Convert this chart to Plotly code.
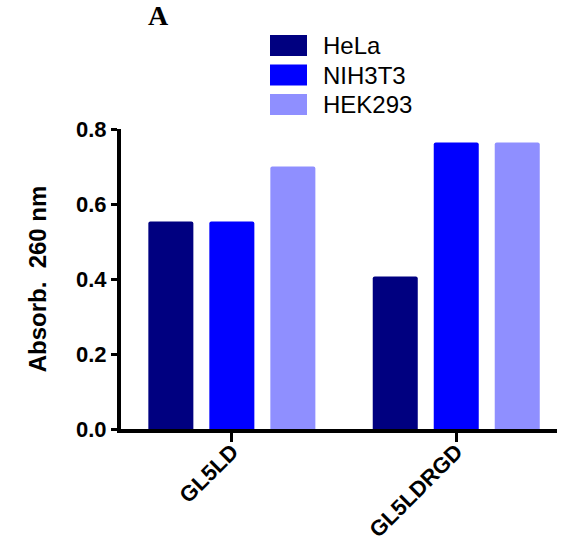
import plotly.graph_objects as go

categories = ["GL5LD", "GL5LDRGD"]
series_names = ["HeLa", "NIH3T3", "HEK293"]
hela = [0.553, 0.407]
nih3t3 = [0.553, 0.764]
hek293 = [0.700, 0.764]
series_values = [hela, nih3t3, hek293]
colors = ["#000080", "#0000FF", "#8F8FFF"]
y_ticks = [0.0, 0.2, 0.4, 0.6, 0.8]

FONT = "Arial, Liberation Sans, sans-serif"

fig = go.Figure()
for name, vals, col in zip(series_names, series_values, colors):
    fig.add_trace(go.Bar(x=categories, y=vals, name=name,
                         marker=dict(color=col, line=dict(width=0)),
                         showlegend=False))

# custom legend (large swatches like the reference)
shapes = []
annotations = []
for i, (name, col) in enumerate(zip(series_names, colors)):
    y0 = 35 + i * 29.5
    shapes.append(dict(type="rect", xref="paper", yref="paper",
                       x0=(270 - 121) / 436, x1=(307 - 121) / 436,
                       y0=(429 - y0) / 300, y1=(429 - (y0 + 21)) / 300,
                       fillcolor=col, line=dict(width=0)))
    annotations.append(dict(text=name, xref="paper", yref="paper",
                            x=(321 - 121) / 436, y=(429 - (y0 + 10.5)) / 300,
                            xanchor="left", yanchor="middle", showarrow=False,
                            font=dict(family=FONT, size=24, color="black")))

annotations.append(dict(text="<b>A</b>", xref="paper", yref="paper",
                        x=(158 - 121) / 436, y=(429 - 16) / 300,
                        xanchor="center", yanchor="middle", showarrow=False,
                        font=dict(family="Liberation Serif, Times New Roman, serif", size=28, color="black")))

fig.update_layout(
    width=563, height=549,
    margin=dict(l=121, r=6, t=129, b=120),
    paper_bgcolor="white", plot_bgcolor="white",
    barmode="group", bargap=0.1845, bargroupgap=0.262,
    barcornerradius=2,
    shapes=shapes, annotations=annotations,
    showlegend=False,
)
fig.update_xaxes(
    range=[-0.494, 1.449], showgrid=False, zeroline=False, automargin=False,
    showline=True, linecolor="black", linewidth=4,
    ticks="outside", ticklen=9, tickwidth=3, tickcolor="black",
    tickangle=-45, ticklabelstandoff=-12,
    tickfont=dict(family=FONT, size=22, color="black", weight="bold"),
)
fig.update_yaxes(
    range=[0, 0.8], tickvals=y_ticks, tickformat=".1f", automargin=False,
    showgrid=False, zeroline=False,
    showline=True, linecolor="black", linewidth=4,
    ticks="outside", ticklen=6, tickwidth=3, tickcolor="black",
    tickfont=dict(family=FONT, size=22, color="black", weight="bold"),
    title=dict(text="<b>Absorb.  260 nm</b>", standoff=24,
               font=dict(family=FONT, size=24, color="black")),
)

fig.write_html("out.html")
